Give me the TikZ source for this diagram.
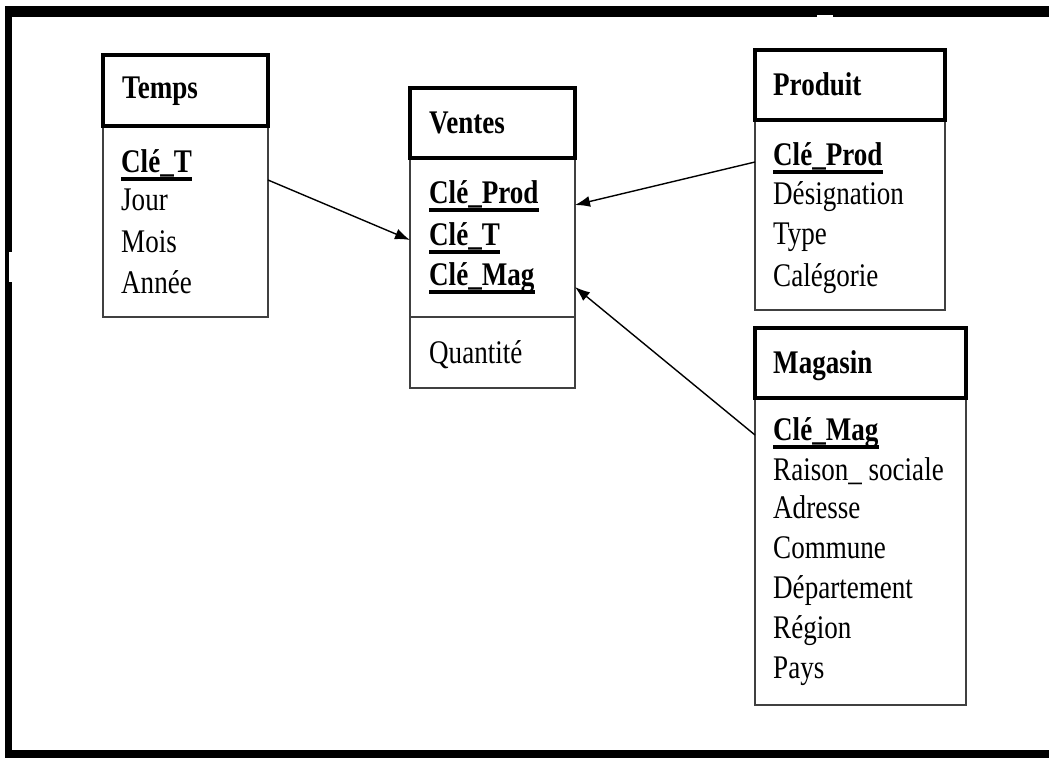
\documentclass[tikz,border=0pt]{standalone}
\usepackage{fontspec}
\setmainfont{Liberation Serif}[FakeStretch=0.82]
\usetikzlibrary{arrows.meta}
\newcommand\attrfont{\fontsize{33}{40}\selectfont}
\tikzset{
  hdrbox/.style={draw=black, line width=3.5pt, anchor=north west, inner sep=0pt, outer sep=0pt},
  bodybox/.style={draw=black!75, line width=1.8pt, anchor=north west, inner sep=0pt, outer sep=0pt},
  attr/.style={inner sep=0pt, anchor=base west, font=\attrfont, text=black},
  title/.style={attr, font=\attrfont\bfseries},
  keyline/.style={line width=3.5pt},
  link/.style={line width=1.4pt, -{Latex[length=15pt,width=11pt]}},
}
\begin{document}
\begin{tikzpicture}[x=1pt,y=-1pt]
\useasboundingbox (0,0) rectangle (1049,758);
% page frame (top, left and bottom bars)
\fill[black] (5,6) rectangle (1049,17);
\fill[black] (5,6) rectangle (12,758);
\fill[black] (5,750) rectangle (1049,758);
\fill[white] (9,252) rectangle (12.5,282);
\fill[white] (817,15) rectangle (833,17.5);

% ---------- Temps ----------
\node[bodybox, minimum width=165pt, minimum height=191pt] (temps-b) at (103,126) {};
\node[hdrbox, minimum width=165pt, minimum height=71pt] (temps-h) at (103,55) {};
\node[title] (temps-t) at (122,98) {Temps};
\node[title] (tk) at (121,172) {Clé\_T};
\node[attr] (temps-1) at (121,210) {Jour};
\node[attr] (temps-2) at (121,252) {Mois};
\node[attr] (temps-3) at (121,293) {Année};

% ---------- Ventes ----------
\node[bodybox, minimum width=165pt, minimum height=159pt] (ventes-b) at (410,158) {};
\node[bodybox, minimum width=165pt, minimum height=71pt] (ventes-q) at (410,317) {};
\node[hdrbox, minimum width=165pt, minimum height=70pt] (ventes-h) at (410,88) {};
\node[title] (ventes-t) at (429,133) {Ventes};
\node[title] (vk1) at (429,203) {Clé\_Prod};
\node[title] (vk2) at (429,245) {Clé\_T};
\node[title] (vk3) at (429,285) {Clé\_Mag};
\node[attr] (ventes-1) at (429,363) {Quantité};

% ---------- Produit ----------
\node[bodybox, minimum width=190pt, minimum height=190pt] (produit-b) at (755,120) {};
\node[hdrbox, minimum width=190pt, minimum height=70pt] (produit-h) at (755,50) {};
\node[title] (produit-t) at (773,95) {Produit};
\node[title] (pk) at (773,165) {Clé\_Prod};
\node[attr] (produit-1) at (773,204) {Désignation};
\node[attr] (produit-2) at (773,244) {Type};
\node[attr] (produit-3) at (773,286) {Calégorie};

% ---------- Magasin ----------
\node[bodybox, minimum width=211pt, minimum height=307pt] (magasin-b) at (755,398) {};
\node[hdrbox, minimum width=211pt, minimum height=70pt] (magasin-h) at (755,328) {};
\node[title] (magasin-t) at (773,373) {Magasin};
\node[title] (mk) at (773,440) {Clé\_Mag};
\node[attr] (magasin-1) at (773,480) {Raison\_ sociale};
\node[attr] (magasin-2) at (773,518) {Adresse};
\node[attr] (magasin-3) at (773,558) {Commune};
\node[attr] (magasin-4) at (773,598) {Département};
\node[attr] (magasin-5) at (773,638) {Région};
\node[attr] (magasin-6) at (773,678) {Pays};

% key underlines
\foreach \k in {tk, vk1, vk2, vk3, pk, mk}
  \draw[keyline] ([yshift=-7pt]\k.base west) -- ([yshift=-7pt]\k.base east);

% foreign-key links into the fact table
\draw[link] ([yshift=-54pt]temps-b.north east) -- ([yshift=-82pt]ventes-b.north west);
\draw[link] ([yshift=-42pt]produit-b.north west) -- ([yshift=-47pt]ventes-b.north east);
\draw[link] ([yshift=-37pt]magasin-b.north west) -- ([yshift=-129pt]ventes-b.north east);
\end{tikzpicture}
\end{document}
